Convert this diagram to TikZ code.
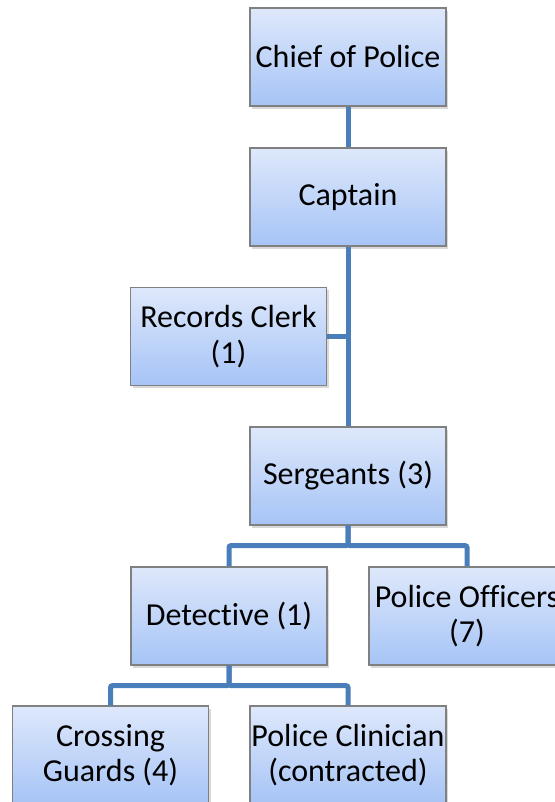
\documentclass[tikz,border=0pt]{standalone}
\usepackage{fontspec}
\setmainfont{Carlito}[Ligatures=NoCommon]
\usetikzlibrary{shadows}
\definecolor{boxtop}{HTML}{DEE8FB}
\definecolor{boxbottom}{HTML}{A6C4F6}
\definecolor{linkblue}{HTML}{4A7EBB}
\tikzset{
    rank/.style={draw=gray, line width=0.9pt, top color=boxtop, bottom color=boxbottom,
        minimum width=147pt, minimum height=73.5pt, inner sep=0pt, align=center,
        font=\fontsize{24}{26.5}\selectfont,
        drop shadow={shadow xshift=1.5pt, shadow yshift=-2pt, opacity=0.3}},
    link/.style={draw=linkblue, line width=3.75pt, rounded corners=1.5pt}
}
\begin{document}
\begin{tikzpicture}[x=0.75pt, y=-0.75pt]
    \useasboundingbox (0,0) rectangle (554,802);

    \node[rank] (chief) at (348,57) {Chief of Police};
    \node[rank] (captain) at (348,197) {Captain};
    \node[rank] (clerk) at (228.5,336.5) {Records Clerk\\(1)};
    \node[rank] (sergeants) at (348,476) {Sergeants (3)};
    \node[rank] (detective) at (229,616) {Detective (1)};
    \node[rank] (officers) at (467,616) {Police Officers\\(7)};
    \node[rank] (guards) at (110.5,755) {Crossing\\Guards (4)};
    \node[rank] (clinician) at (348,755) {Police Clinician\\(contracted)};

    \draw[link] (chief.south) -- (captain.north);
    \draw[link] (captain.south) -- (sergeants.north);
    \draw[link] (clerk.east) -- (captain.south |- clerk.east);

    \draw[link] (sergeants.south) -- ++(0,20) -| (detective.north);
    \draw[link] (sergeants.south) -- ++(0,20) -| (officers.north);

    \draw[link] (detective.south) -- ++(0,20) -| (guards.north);
    \draw[link] (detective.south) -- ++(0,20) -| (clinician.north);
\end{tikzpicture}
\end{document}
